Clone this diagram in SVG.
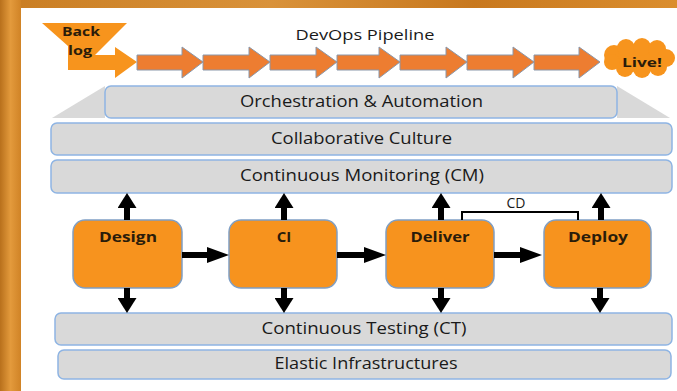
<svg xmlns="http://www.w3.org/2000/svg" width="677" height="391" viewBox="0 0 677 391">
  <defs>
    <linearGradient id="bgLeft" x1="0" y1="0" x2="1" y2="0">
      <stop offset="0" stop-color="#B8701C"/>
      <stop offset="0.5" stop-color="#E39A3C"/>
      <stop offset="1" stop-color="#D08326"/>
    </linearGradient>
    <linearGradient id="bgTop" x1="0" y1="0" x2="1" y2="0">
      <stop offset="0" stop-color="#C97D22"/>
      <stop offset="0.4" stop-color="#D9923A"/>
      <stop offset="0.7" stop-color="#C8781E"/>
      <stop offset="1" stop-color="#DB8E2E"/>
    </linearGradient>
    <marker id="headV" markerUnits="userSpaceOnUse" markerWidth="15" markerHeight="19" refX="0" refY="9.5" orient="auto">
      <path d="M0,0 L15,9.5 L0,19 Z" fill="#000"/>
    </marker>
    <marker id="headH" markerUnits="userSpaceOnUse" markerWidth="22" markerHeight="16" refX="0" refY="8" orient="auto">
      <path d="M0,0 L22,8 L0,16 Z" fill="#000"/>
    </marker>
  </defs>
  <style>
    .bar { fill: #D9D9D9; stroke: #8EB4E3; stroke-width: 1.5; }
    .barlbl { font-family: "Open Sans", "Liberation Sans", sans-serif; font-size: 16px; fill: #1a1a1a; text-anchor: middle; }
    .node { fill: #F7931E; stroke: #7F9FC5; stroke-width: 1.5; }
    .nodelbl { font-family: "Open Sans", "Liberation Sans", sans-serif; font-size: 15px; font-weight: bold; fill: #2a1c0a; text-anchor: middle; }
    .pipe { fill: #ED7D31; stroke: #8A97AA; stroke-width: 1; }
    .conn { stroke: #000; stroke-width: 6; fill: none; }
    .orangeLbl { font-family: "Open Sans", "Liberation Sans", sans-serif; font-size: 13px; font-weight: bold; fill: #2a1c0a; }
  </style>

  <!-- background -->
  <rect x="0" y="0" width="677" height="391" fill="#D08326"/>
  <rect x="0" y="0" width="677" height="8" fill="url(#bgTop)"/>
  <rect x="0" y="0" width="21" height="391" fill="url(#bgLeft)"/>
  <rect x="21" y="8" width="656" height="383" fill="#FFFFFF"/>

  <!-- pipeline -->
  <g id="backlog">
    <polygon points="42,23 127,23 95,55 115,55 115,47 137,62 115,78 115,70 68,70 68,46" fill="#F7941D"/>
    <text class="orangeLbl" x="62" y="36" textLength="38" lengthAdjust="spacingAndGlyphs">Back</text>
    <text class="orangeLbl" x="68" y="55" textLength="24" lengthAdjust="spacingAndGlyphs">log</text>
  </g>
  <text id="title" x="365" y="40" font-family="'Open Sans', 'Liberation Sans', sans-serif" font-size="14" fill="#1a1a1a" text-anchor="middle" textLength="139" lengthAdjust="spacingAndGlyphs">DevOps Pipeline</text>
  <g id="pipeline-arrows">
    <polygon class="pipe" points="137,55 182,55 182,47 203,62 182,78 182,70 137,70"/>
    <polygon class="pipe" points="203,55 249,55 249,47 270,62 249,78 249,70 203,70"/>
    <polygon class="pipe" points="270,55 316,55 316,47 337,62 316,78 316,70 270,70"/>
    <polygon class="pipe" points="337,55 379,55 379,47 400,62 379,78 379,70 337,70"/>
    <polygon class="pipe" points="400,55 446,55 446,47 467,62 446,78 446,70 400,70"/>
    <polygon class="pipe" points="467,55 513,55 513,47 534,62 513,78 513,70 467,70"/>
    <polygon class="pipe" points="534,55 579,55 579,47 600,62 579,78 579,70 534,70"/>
  </g>
  <g id="live">
    <g fill="#F7941D">
      <ellipse cx="639" cy="58" rx="30" ry="14"/>
      <circle cx="614" cy="55" r="10"/>
      <circle cx="626" cy="48" r="9"/>
      <circle cx="642" cy="47" r="9"/>
      <circle cx="657" cy="49" r="9"/>
      <circle cx="666" cy="58" r="9"/>
      <circle cx="658" cy="67" r="9"/>
      <circle cx="642" cy="69" r="9"/>
      <circle cx="625" cy="68" r="9"/>
      <circle cx="612" cy="62" r="8"/>
    </g>
    <text class="orangeLbl" x="642" y="67" text-anchor="middle" font-size="14" textLength="40" lengthAdjust="spacingAndGlyphs">Live!</text>
  </g>

  <!-- layers -->
  <g id="orchestration">
    <polygon points="105,86 52,118 105,118" fill="#D9D9D9"/>
    <polygon points="617,86 670,118 617,118" fill="#D9D9D9"/>
    <rect class="bar" x="105" y="86" width="512" height="32" rx="6"/>
    <text class="barlbl" x="361.5" y="107" textLength="243" lengthAdjust="spacingAndGlyphs">Orchestration &amp; Automation</text>
  </g>
  <g id="collaborative">
    <rect class="bar" x="51" y="123" width="621" height="32" rx="6"/>
    <text class="barlbl" x="361.5" y="144" textLength="181" lengthAdjust="spacingAndGlyphs">Collaborative Culture</text>
  </g>
  <g id="monitoring">
    <rect class="bar" x="51" y="160" width="621" height="33" rx="6"/>
    <text class="barlbl" x="362" y="181" textLength="244" lengthAdjust="spacingAndGlyphs">Continuous Monitoring (CM)</text>
  </g>
  <g id="testing">
    <rect class="bar" x="55" y="313" width="617" height="32" rx="6"/>
    <text class="barlbl" x="364" y="334" textLength="205" lengthAdjust="spacingAndGlyphs">Continuous Testing (CT)</text>
  </g>
  <g id="elastic">
    <rect class="bar" x="58" y="350" width="613" height="29" rx="6"/>
    <text class="barlbl" x="366" y="369" textLength="183" lengthAdjust="spacingAndGlyphs">Elastic Infrastructures</text>
  </g>

  <!-- nodes -->
  <g id="design">
    <rect class="node" x="73" y="220" width="109" height="68" rx="12"/>
    <text class="nodelbl" x="128" y="242" textLength="58" lengthAdjust="spacingAndGlyphs">Design</text>
  </g>
  <g id="ci">
    <rect class="node" x="229" y="220" width="108" height="68" rx="12"/>
    <text class="nodelbl" x="284" y="242">CI</text>
  </g>
  <g id="deliver">
    <rect class="node" x="386" y="220" width="108" height="68" rx="12"/>
    <text class="nodelbl" x="440" y="242" textLength="59" lengthAdjust="spacingAndGlyphs">Deliver</text>
  </g>
  <g id="deploy">
    <rect class="node" x="544" y="220" width="107" height="68" rx="12"/>
    <text class="nodelbl" x="598" y="242" textLength="60" lengthAdjust="spacingAndGlyphs">Deploy</text>
  </g>

  <!-- connectors -->
  <g id="connectors">
    <line class="conn" x1="127" y1="220" x2="127" y2="208" marker-end="url(#headV)"/>
    <line class="conn" x1="284" y1="220" x2="284" y2="208" marker-end="url(#headV)"/>
    <line class="conn" x1="441" y1="220" x2="441" y2="208" marker-end="url(#headV)"/>
    <line class="conn" x1="601" y1="220" x2="601" y2="208" marker-end="url(#headV)"/>
    <line class="conn" x1="127" y1="288" x2="127" y2="298" marker-end="url(#headV)"/>
    <line class="conn" x1="284" y1="288" x2="284" y2="298" marker-end="url(#headV)"/>
    <line class="conn" x1="441" y1="288" x2="441" y2="298" marker-end="url(#headV)"/>
    <line class="conn" x1="600" y1="288" x2="600" y2="298" marker-end="url(#headV)"/>
    <line class="conn" x1="182" y1="255" x2="207" y2="255" marker-end="url(#headH)"/>
    <line class="conn" x1="337" y1="255" x2="364" y2="255" marker-end="url(#headH)"/>
    <line class="conn" x1="494" y1="255" x2="520" y2="255" marker-end="url(#headH)"/>
    <polyline points="462,220 462,212 578,212 578,220" fill="none" stroke="#000" stroke-width="2"/>
    <text x="516" y="208" font-family="'Open Sans', 'Liberation Sans', sans-serif" font-size="14" fill="#1a1a1a" text-anchor="middle">CD</text>
  </g>
</svg>
